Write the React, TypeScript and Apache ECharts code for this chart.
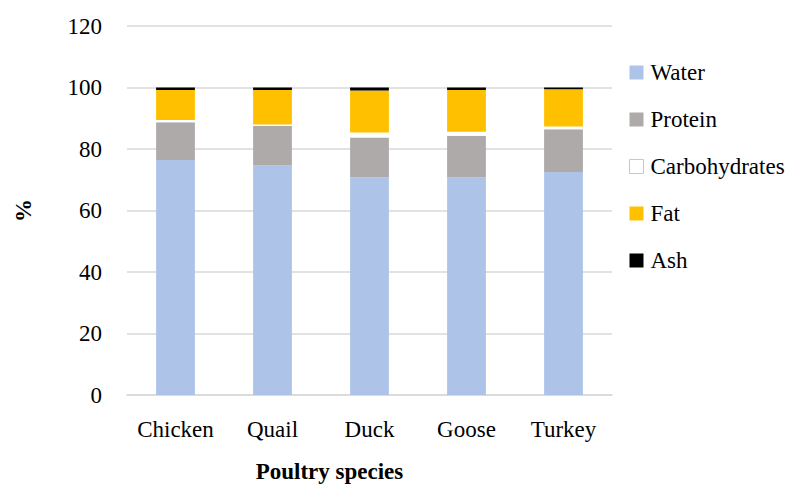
import React, { useEffect, useRef } from "react";
import * as echarts from "echarts";

const categories = ["Chicken", "Quail", "Duck", "Goose", "Turkey"];
const water = [76.4, 74.6, 70.8, 70.7, 72.5];
const protein = [12.3, 12.9, 12.9, 13.6, 13.9];
const carbohydrates = [0.7, 0.5, 1.7, 1.3, 0.9];
const fat = [9.8, 11.2, 13.6, 13.6, 12.1];
const ash = [0.8, 0.8, 1.0, 0.8, 0.6];

const FONT = "Liberation Serif";
const FS = 23;

export default function App() {
  const ref = useRef<HTMLDivElement>(null);
  useEffect(() => {
    if (!ref.current) return;
    const chart = echarts.init(ref.current, undefined, { renderer: "svg" });
    const mk = (name: string, data: number[], color: string) => ({
      name,
      type: "bar",
      stack: "total",
      barWidth: "40%",
      data,
      itemStyle: { color },
      emphasis: { disabled: true },
    });
    chart.setOption({
      animation: false,
      textStyle: { fontFamily: FONT },
      grid: {
        left: 127,
        right: 194,
        top: 26,
        bottom: 91,
        containLabel: false,
        outerBoundsMode: "none",
      },
      legend: {
        orient: "vertical",
        left: 624,
        top: 56,
        itemWidth: 14,
        itemHeight: 14,
        itemGap: 24,
        icon: "rect",
        textStyle: { fontFamily: FONT, fontSize: FS, color: "#000", padding: [0, 0, 0, 2] },
        data: [
          { name: "Water" },
          { name: "Protein" },
          { name: "Carbohydrates", itemStyle: { color: "#ffffff", borderColor: "#c8c8c8", borderWidth: 1 } },
          { name: "Fat" },
          { name: "Ash" },
        ],
      },
      xAxis: {
        type: "category",
        data: categories,
        axisLine: { lineStyle: { color: "#d9d9d9", width: 1.5 } },
        axisTick: { show: false },
        axisLabel: { color: "#000", fontFamily: FONT, fontSize: FS, margin: 23, interval: 0 },
        name: "Poultry species",
        nameLocation: "middle",
        nameGap: 65,
        nameTextStyle: {
          color: "#000",
          fontFamily: FONT,
          fontSize: FS,
          fontWeight: "bold",
          padding: [0, 80, 0, 0],
        },
      },
      yAxis: {
        type: "value",
        min: 0,
        max: 120,
        interval: 20,
        axisLine: { show: false },
        axisTick: { show: false },
        splitLine: { lineStyle: { color: "#d9d9d9", width: 1.5 } },
        axisLabel: { color: "#000", fontFamily: FONT, fontSize: FS, margin: 25 },
        name: "%",
        nameLocation: "middle",
        nameGap: 92,
        nameTextStyle: { color: "#000", fontFamily: FONT, fontSize: FS, fontWeight: "bold" },
      },
      series: [
        mk("Water", water, "#adc4e8"),
        mk("Protein", protein, "#aeaaaa"),
        mk("Carbohydrates", carbohydrates, "#ffffff"),
        mk("Fat", fat, "#ffc000"),
        mk("Ash", ash, "#000000"),
      ],
    });
    return () => chart.dispose();
  }, []);
  return (
    <div
      ref={ref}
      style={{ position: "absolute", left: 0, top: 0, width: 806, height: 486 }}
    />
  );
}
